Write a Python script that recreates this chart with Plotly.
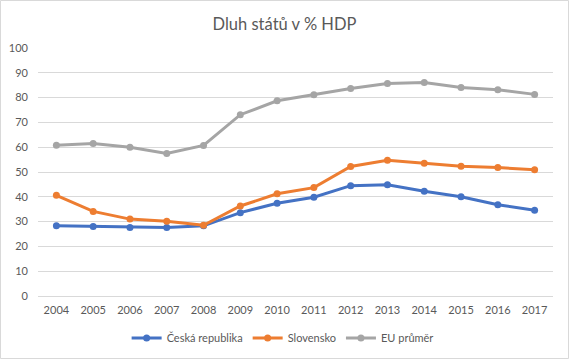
import plotly.graph_objects as go

years = ["2004", "2005", "2006", "2007", "2008", "2009", "2010", "2011",
         "2012", "2013", "2014", "2015", "2016", "2017"]
ceska = [28.3, 28.0, 27.6, 27.6, 28.3, 33.6, 37.4, 39.8, 44.5, 44.9, 42.2, 40.0, 36.8, 34.6]
slovensko = [40.6, 34.1, 31.0, 30.1, 28.5, 36.3, 41.2, 43.7, 52.2, 54.7, 53.5, 52.3, 51.8, 50.9]
eu = [60.8, 61.5, 60.0, 57.5, 60.7, 73.1, 78.7, 81.1, 83.7, 85.7, 86.1, 84.1, 83.2, 81.3]

series = [
    ("Česká republika", ceska, "#4472C4"),
    ("Slovensko", slovensko, "#ED7D31"),
    ("EU průměr", eu, "#A5A5A5"),
]

fig = go.Figure()
for name, vals, col in series:
    fig.add_trace(go.Scatter(
        x=years, y=vals, name=name, mode="lines+markers",
        line=dict(color=col, width=3),
        marker=dict(color=col, size=7),
    ))

font_col = "#595959"
fig.update_layout(
    width=569, height=359,
    margin=dict(l=38, r=16, t=48, b=63, autoexpand=False),
    paper_bgcolor="white", plot_bgcolor="white",
    font=dict(family="Lato, Open Sans, sans-serif", size=11, color=font_col),
    title=dict(text="Dluh států v % HDP", x=0.5, xanchor="center", xref="container",
               y=1 - 24 / 359, yanchor="middle",
               font=dict(size=16.5, color=font_col)),
    xaxis=dict(type="category", range=[-0.5, 13.5], showgrid=False,
               showline=True, linecolor="#d9d9d9", linewidth=1,
               ticks="", automargin=False, ticklabelstandoff=4,
               tickfont=dict(size=11, color=font_col)),
    yaxis=dict(range=[0, 100], dtick=10, showgrid=True, gridcolor="#d9d9d9",
               gridwidth=1, zeroline=False, showline=False, ticks="",
               automargin=False, ticklabelstandoff=9,
               tickfont=dict(size=11, color=font_col)),
    legend=dict(orientation="h", x=0.475, xanchor="center", y=-42 / 248,
                yanchor="middle", font=dict(size=11, color=font_col),
                itemwidth=30, tracegroupgap=0),
    showlegend=True,
)

# outer chart border
w = 569 - 38 - 16
h = 359 - 48 - 63
fig.add_shape(type="rect", xref="paper", yref="paper",
              x0=(-38 + 0.5) / w, x1=(w + 16 - 0.5) / w,
              y0=(-63 + 0.5) / h, y1=(h + 48 - 0.5) / h,
              line=dict(color="#d9d9d9", width=1), fillcolor="rgba(0,0,0,0)",
              layer="below")

fig.write_html("out.html", config={"displayModeBar": False},
               post_script="document.body.style.margin='0';document.body.style.overflow='hidden';")
